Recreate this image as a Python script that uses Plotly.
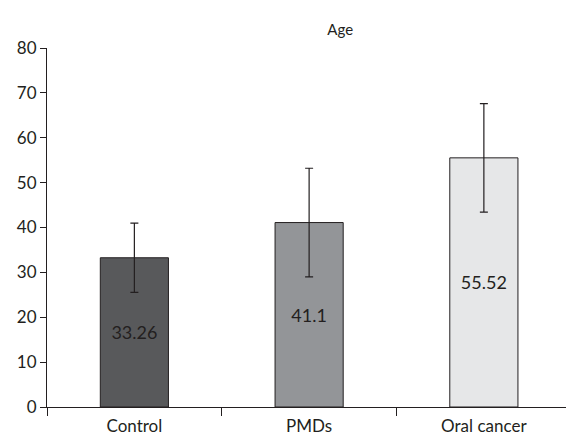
import plotly.graph_objects as go

categories = ["Control", "PMDs", "Oral cancer"]
means = [33.26, 41.1, 55.52]
sds = [7.7, 12.1, 12.1]
labels = ["33.26", "41.1", "55.52"]
colors = ["#58595b", "#939598", "#e6e7e8"]
y_ticks = [0, 10, 20, 30, 40, 50, 60, 70, 80]

FONT = "Lato, 'Open Sans', sans-serif"

fig = go.Figure()
fig.add_trace(go.Bar(
    x=categories, y=means,
    marker=dict(color=colors, line=dict(color="#231f20", width=1)),
    width=0.39,
    text=labels, textposition="inside", insidetextanchor="middle",
    textfont=dict(size=18, color="#231f20", family=FONT),
    error_y=dict(type="data", array=sds, visible=True, color="#231f20", thickness=1.2, width=4),
    showlegend=False,
))

fig.update_layout(
    width=566, height=441,
    margin=dict(l=47, r=0, t=48, b=34, autoexpand=False),
    plot_bgcolor="white", paper_bgcolor="white",
    font=dict(family=FONT, color="#231f20"),
    title=dict(text="Age", x=0.565, xanchor="center", xref="paper",
               y=1 - 30 / 441, yanchor="middle", yref="container",
               font=dict(size=15, family=FONT, color="#231f20")),
    bargap=0.6,
)
fig.update_xaxes(
    range=[-0.5, 2.47], showline=True, linecolor="#231f20", linewidth=1,
    ticks="outside", tickson="boundaries", ticklen=8, tickcolor="#231f20",
    tickfont=dict(size=17, family=FONT), showgrid=False, zeroline=False, automargin=False,
    ticklabelstandoff=4,
)
fig.update_yaxes(
    range=[0, 80], tickvals=y_ticks, showline=True, linecolor="#231f20", linewidth=1,
    ticks="outside", ticklen=6, tickcolor="#231f20",
    tickfont=dict(size=17, family=FONT), showgrid=False, zeroline=False, automargin=False,
)

fig.write_html("out.html", config={"displayModeBar": False},
               post_script="document.body.style.margin='0';")
